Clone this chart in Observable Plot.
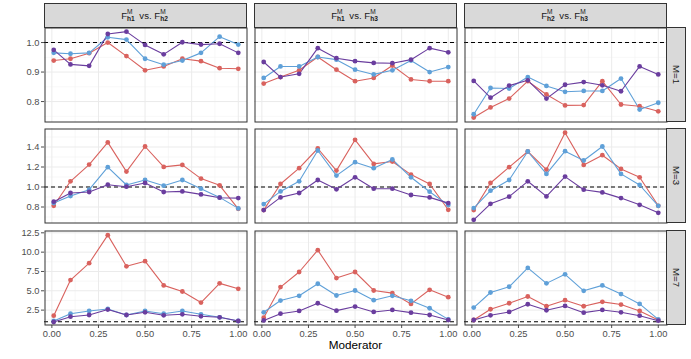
<!DOCTYPE html>
<html><head><meta charset="utf-8">
<script src="https://cdn.jsdelivr.net/npm/d3@7"></script>
<script src="https://cdn.jsdelivr.net/npm/@observablehq/plot@0.6"></script>
<style>
body{margin:0;background:#fff;font-family:"Liberation Sans",Arial,sans-serif;}
#chart{position:relative;width:691px;height:359px;overflow:hidden;background:#fff}
.panel{position:absolute}
.panel svg{overflow:visible}
.strip{position:absolute;background:#D9D9D9;border:1px solid #333;box-sizing:border-box;display:flex;align-items:center;justify-content:center;font-size:9.6px;color:#1A1A1A;white-space:nowrap}
.ss{display:inline-block;vertical-align:-3px;line-height:6.5px;font-size:6.6px;text-align:left;margin-right:2px}
.ss span{display:block}
.ss .b{font-weight:bold}
.rstrip span.rot{display:inline-block;transform:rotate(90deg)}
#xtitle{position:absolute;left:44px;width:623px;top:338px;text-align:center;font-size:11.7px;color:#000}
</style>
</head><body>
<div id="chart"></div>
<script>
// ---- data ----
const moderator = [0.01, 0.1, 0.2, 0.3, 0.4, 0.5, 0.6, 0.7, 0.8, 0.9, 1.0];
const comparisons = [["h1", "h2"], ["h1", "h3"], ["h2", "h3"]];
const mLevels = ["M=1", "M=3", "M=7"];
const seriesNames = ["Series A", "Series B", "Series C"];
const seriesColors = ["#D9625E", "#5FA0D8", "#6A3D9E"];

// each panel: [Series A, Series B, Series C]
const M1_h1h2 = [
  [0.939, 0.945, 0.964, 1.000, 0.954, 0.906, 0.919, 0.945, 0.937, 0.913, 0.911],
  [0.965, 0.962, 0.965, 1.018, 1.010, 0.945, 0.925, 0.939, 0.965, 1.020, 0.993],
  [0.975, 0.926, 0.921, 1.029, 1.037, 0.992, 0.960, 1.001, 0.993, 0.996, 0.965]
];
const M1_h1h3 = [
  [0.861, 0.883, 0.906, 0.951, 0.908, 0.869, 0.880, 0.922, 0.875, 0.869, 0.869],
  [0.880, 0.919, 0.919, 0.951, 0.942, 0.908, 0.892, 0.906, 0.939, 0.900, 0.917],
  [0.934, 0.883, 0.894, 0.981, 0.947, 0.937, 0.931, 0.930, 0.942, 0.981, 0.967]
];
const M1_h2h3 = [
  [0.746, 0.780, 0.810, 0.869, 0.824, 0.787, 0.788, 0.869, 0.790, 0.784, 0.767],
  [0.757, 0.846, 0.844, 0.883, 0.853, 0.833, 0.836, 0.836, 0.878, 0.773, 0.796],
  [0.870, 0.813, 0.854, 0.872, 0.810, 0.857, 0.866, 0.855, 0.835, 0.919, 0.892]
];
const M3_h1h2 = [
  [0.812, 1.057, 1.224, 1.446, 1.154, 1.405, 1.201, 1.221, 1.084, 1.017, 0.782],
  [0.839, 0.910, 0.973, 1.198, 1.020, 1.070, 1.013, 1.070, 0.983, 0.896, 0.786],
  [0.853, 0.940, 0.950, 1.023, 1.003, 1.040, 0.950, 0.956, 0.926, 0.893, 0.889]
];
const M3_h1h3 = [
  [0.769, 1.030, 1.188, 1.385, 1.164, 1.472, 1.231, 1.255, 1.124, 1.030, 0.772],
  [0.829, 0.956, 1.057, 1.365, 1.114, 1.248, 1.188, 1.275, 1.097, 0.953, 0.819],
  [0.769, 0.896, 0.940, 1.070, 0.977, 1.097, 0.983, 0.983, 0.920, 0.896, 0.839]
];
const M3_h2h3 = [
  [0.769, 1.040, 1.198, 1.355, 1.174, 1.543, 1.221, 1.318, 1.181, 1.097, 0.812],
  [0.789, 0.963, 1.070, 1.355, 1.131, 1.358, 1.265, 1.405, 1.131, 1.020, 0.812],
  [0.672, 0.832, 0.903, 1.057, 0.906, 1.104, 0.973, 0.946, 0.889, 0.822, 0.742]
];
const M7_h1h2 = [
  [1.78, 6.39, 8.57, 12.20, 8.17, 8.83, 5.70, 4.91, 3.48, 5.96, 5.26],
  [1.09, 2.04, 2.39, 2.65, 1.87, 2.39, 2.04, 2.39, 1.96, 1.57, 1.09],
  [0.96, 1.65, 1.87, 2.57, 1.87, 2.22, 1.83, 1.96, 1.70, 1.57, 1.09]
];
const M7_h1h3 = [
  [1.52, 5.48, 7.43, 10.26, 6.65, 7.43, 5.04, 4.70, 3.30, 5.13, 4.17],
  [2.22, 3.74, 4.35, 5.91, 4.39, 5.04, 3.78, 4.35, 3.70, 2.74, 1.30],
  [1.17, 2.04, 2.39, 3.39, 2.43, 2.96, 2.26, 2.52, 2.17, 1.87, 1.22]
];
const M7_h2h3 = [
  [1.22, 2.61, 3.39, 4.26, 3.00, 3.78, 3.00, 3.57, 3.22, 2.39, 1.22],
  [2.83, 4.78, 5.52, 7.96, 5.96, 7.13, 5.00, 5.70, 4.57, 3.30, 1.30],
  [1.22, 1.83, 2.26, 3.26, 2.48, 3.04, 2.17, 2.52, 2.22, 1.78, 1.13]
];
const panelValues = [
  [M1_h1h2, M1_h1h3, M1_h2h3],
  [M3_h1h2, M3_h1h3, M3_h2h3],
  [M7_h1h2, M7_h1h3, M7_h2h3]
];

const xTicks = [0, 0.25, 0.5, 0.75, 1];
const xMinor = [0.125, 0.375, 0.625, 0.875];
const yTicks = [[0.8, 0.9, 1.0], [0.8, 1.0, 1.2, 1.4], [2.5, 5.0, 7.5, 10.0, 12.5]];
const yMinor = [[0.75, 0.85, 0.95, 1.05], [0.7, 0.9, 1.1, 1.3, 1.5], [1.25, 3.75, 6.25, 8.75, 11.25]];
const yDomains = [[0.729, 1.051], [0.635, 1.585], [0.51, 12.8]];
const xDomain = [-0.0395, 1.0495];
const refLine = [1];

// ---- layout ----
const colLeft = [44, 254, 464];
const rowTop = [27, 128, 230];
const PW = 203, PH = 95;
const chart = document.getElementById("chart");

for (let r = 0; r < 3; r++) {
  for (let c = 0; c < 3; c++) {
    const vals = panelValues[r][c];
    const data = [];
    vals.forEach((arr, si) => arr.forEach((v, i) => data.push({x: moderator[i], y: v, series: seriesNames[si]})));
    const ml = c === 0 ? 44 : 0;
    const mb = r === 2 ? 22 : 0;
    const svg = Plot.plot({
      width: PW + ml, height: PH + mb,
      marginLeft: ml, marginRight: 0, marginTop: 0, marginBottom: mb,
      style: {fontFamily: "'Liberation Sans', Arial, sans-serif", fontSize: "9.3px", color: "#4D4D4D", background: "transparent"},
      x: r === 2
        ? {domain: xDomain, ticks: xTicks, tickFormat: d3.format(".2f"), tickSize: 3, tickPadding: 2, label: null}
        : {domain: xDomain, axis: null},
      y: c === 0
        ? {domain: yDomains[r], ticks: yTicks[r], tickFormat: d3.format(".1f"), tickSize: 3, tickPadding: 2, label: null}
        : {domain: yDomains[r], axis: null},
      color: {domain: seriesNames, range: seriesColors},
      marks: [
        Plot.ruleX(xMinor, {stroke: "#F2F2F2", strokeWidth: 0.6}),
        Plot.ruleY(yMinor[r], {stroke: "#F2F2F2", strokeWidth: 0.6}),
        Plot.ruleX(xTicks, {stroke: "#EBEBEB", strokeWidth: 1}),
        Plot.ruleY(yTicks[r], {stroke: "#EBEBEB", strokeWidth: 1}),
        Plot.ruleY(refLine, {stroke: "#000", strokeWidth: 1.1, strokeDasharray: "4,3"}),
        Plot.line(data, {x: "x", y: "y", stroke: "series", strokeWidth: 1.1}),
        Plot.dot(data, {x: "x", y: "y", fill: "series", r: 2.4}),
        Plot.frame({stroke: "#333", strokeWidth: 1, inset: 0.5})
      ]
    });
    const div = document.createElement("div");
    div.className = "panel";
    div.style.left = (colLeft[c] - ml) + "px";
    div.style.top = rowTop[r] + "px";
    div.appendChild(svg);
    chart.appendChild(div);
  }
}

// top strips
comparisons.forEach((pair, c) => {
  const s = document.createElement("div");
  s.className = "strip";
  s.style.left = colLeft[c] + "px";
  s.style.top = "3px";
  s.style.width = PW + "px";
  s.style.height = "25px";
  s.innerHTML = `F<span class="ss"><span>M</span><span class="b">${pair[0]}</span></span>&nbsp;vs.&nbsp;F<span class="ss"><span>M</span><span class="b">${pair[1]}</span></span>`;
  chart.appendChild(s);
});
// right strips
mLevels.forEach((m, r) => {
  const s = document.createElement("div");
  s.className = "strip rstrip";
  s.style.left = (colLeft[2] + PW - 1) + "px";
  s.style.top = rowTop[r] + "px";
  s.style.width = "20px";
  s.style.height = PH + "px";
  s.innerHTML = `<span class="rot">${m}</span>`;
  chart.appendChild(s);
});
const t = document.createElement("div");
t.id = "xtitle";
t.textContent = "Moderator";
chart.appendChild(t);
</script>
</body></html>
